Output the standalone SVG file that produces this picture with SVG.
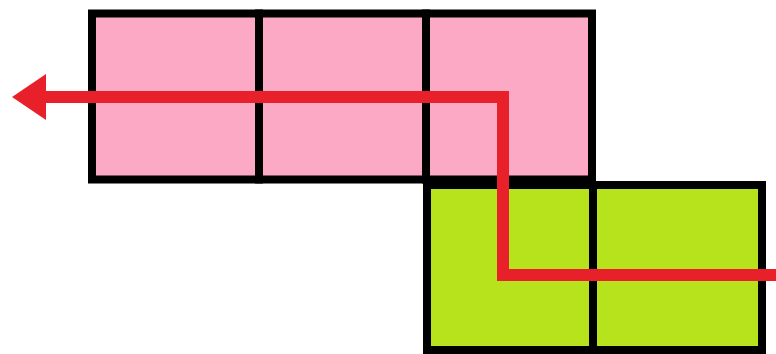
<svg xmlns="http://www.w3.org/2000/svg" width="776" height="354" viewBox="0 0 776 354">
<style>
.pink{fill:#FBA9C5;stroke:#000;stroke-width:8}
.green{fill:#B6E31C;stroke:#000;stroke-width:8}
.path{fill:none;stroke:#E8202A;stroke-width:12;stroke-linejoin:miter}
</style>
<defs>
<marker id="ah" markerUnits="userSpaceOnUse" markerWidth="34" markerHeight="50" refX="4" refY="25" orient="auto">
<polygon points="0,2 0,48 34,25" fill="#E8202A"/>
</marker>
</defs>
<rect width="776" height="354" fill="#fff"/>
<g id="pink-row">
<rect id="p1" class="pink" x="92" y="13.5" width="167" height="166"/>
<rect id="p2" class="pink" x="259" y="13.5" width="167" height="166"/>
<rect id="p3" class="pink" x="426" y="13.5" width="166" height="166"/>
</g>
<g id="green-row">
<rect id="g1" class="green" x="427" y="185" width="166" height="165"/>
<rect id="g2" class="green" x="593" y="185" width="169" height="165"/>
</g>
<g id="connectors">
<path class="path" d="M776,275 H503 V97 H42" marker-end="url(#ah)"/>
</g>
</svg>
